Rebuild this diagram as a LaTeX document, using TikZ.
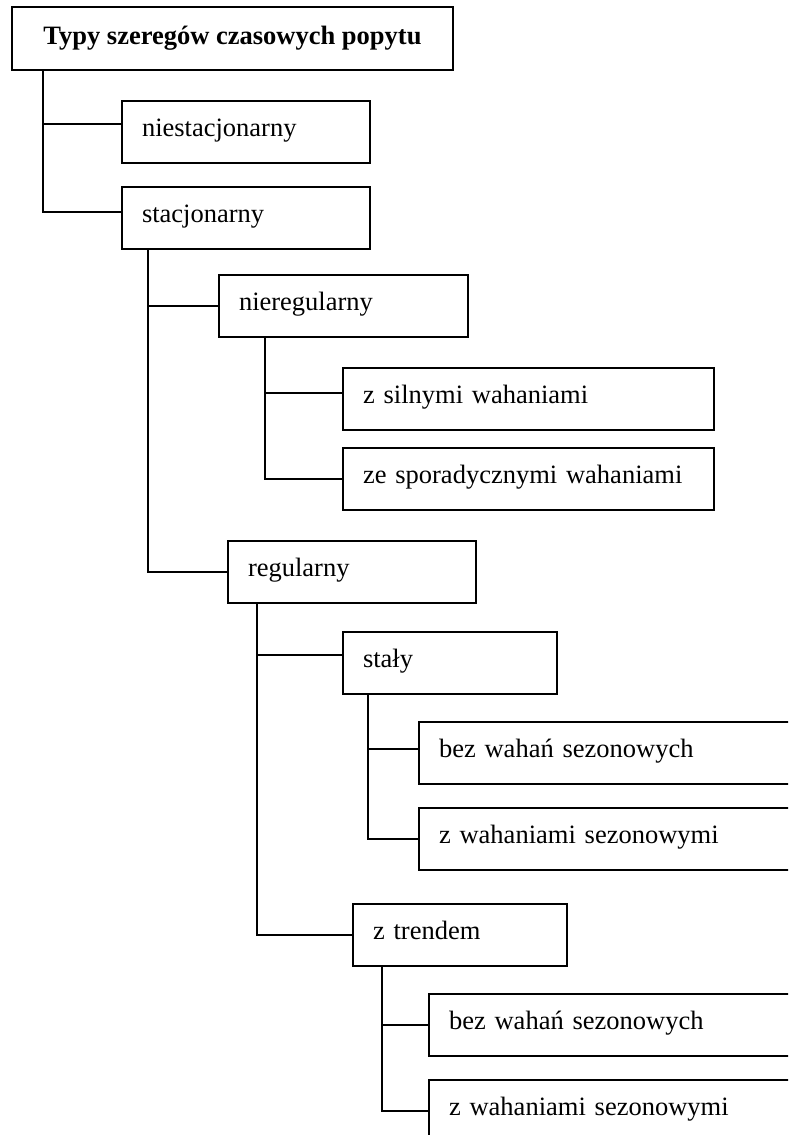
\documentclass[tikz,border=0pt]{standalone}
\usepackage{fontspec}
\setmainfont{Liberation Serif}
\usepackage{tikz}
\usetikzlibrary{positioning}

\begin{document}
\begin{tikzpicture}[
    x=0.5pt, y=-0.5pt,
    box/.style={draw, line width=1pt, text width=#1, align=left, inner xsep=10pt, minimum height=31pt,
        text height=0.68em, text depth=0.22em, font=\fontsize{13.25}{16}\selectfont},
    rootbox/.style={draw, line width=1pt, minimum width=220.5pt, minimum height=31.5pt, align=center,
        font=\fontsize{13.25}{16}\selectfont\bfseries},
    link/.style={line width=1pt}
]
\useasboundingbox (0,0) rectangle (788,1135);
\clip (0,0) rectangle (788,1135);

\node[rootbox] (root) at (232.5,38.5) {Typy szeregów czasowych popytu};
\node[box=104pt] (niest) at (246,131.5) {niestacjonarny};
\node[box=104pt] (stac) at (246,217.5) {stacjonarny};
\node[box=104.5pt] (nieregul) at (343.5,306) {nieregularny};
\node[box=165.5pt] (silne) at (528.5,399) {z silnymi wahaniami};
\node[box=165.5pt] (sporad) at (528.5,479) {ze sporadycznymi wahaniami};
\node[box=104pt] (regul) at (352,572) {regularny};
\node[box=87pt] (staly) at (450,663) {stały};
\node[box=170.5pt] (bezA) at (609.5,753) {bez wahań sezonowych};
\node[box=170.5pt] (zwahA) at (609.5,839) {z wahaniami sezonowymi};
\node[box=87pt] (trend) at (460,934.5) {z trendem};
\node[box=170.5pt] (bezB) at (619.5,1025) {bez wahań sezonowych};
\node[box=170.5pt] (zwahB) at (619.5,1111) {z wahaniami sezonowymi};

% tree branches
\draw[link] ([xshift=16pt]root.south west) |- ([yshift=4pt]niest.west);
\draw[link] ([xshift=16pt]root.south west) |- ([yshift=3pt]stac.west);
\draw[link] ([xshift=13.5pt]stac.south west) |- (nieregul.west);
\draw[link] ([xshift=13.5pt]stac.south west) |- (regul.west);
\draw[link] ([xshift=23.5pt]nieregul.south west) |- ([yshift=3pt]silne.west);
\draw[link] ([xshift=23.5pt]nieregul.south west) |- (sporad.west);
\draw[link] ([xshift=15pt]regul.south west) |- ([yshift=4pt]staly.west);
\draw[link] ([xshift=15pt]regul.south west) |- (trend.west);
\draw[link] ([xshift=13pt]staly.south west) |- ([yshift=2pt]bezA.west);
\draw[link] ([xshift=13pt]staly.south west) |- (zwahA.west);
\draw[link] ([xshift=15pt]trend.south west) |- (bezB.west);
\draw[link] ([xshift=15pt]trend.south west) |- (zwahB.west);
\end{tikzpicture}
\end{document}
